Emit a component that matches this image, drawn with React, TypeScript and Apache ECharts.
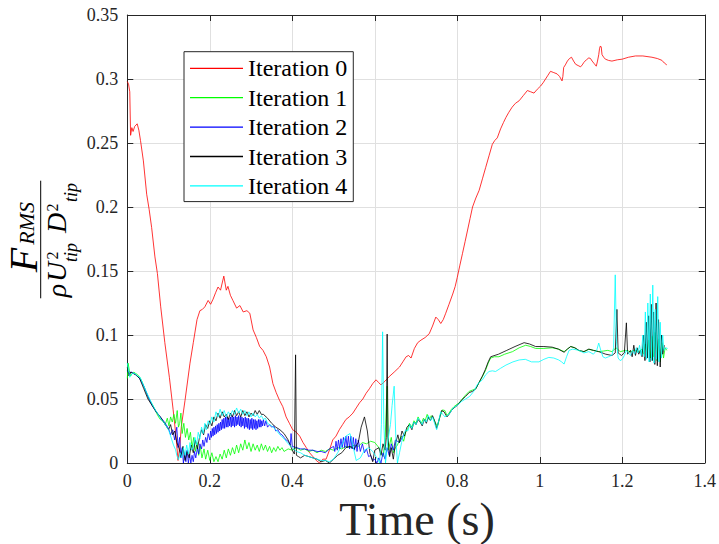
import React, { useEffect, useRef } from "react";
import * as echarts from "echarts";

const seriesNames = ["Iteration 0", "Iteration 1", "Iteration 2", "Iteration 3", "Iteration 4"];
const seriesColors = ["#ff0000", "#00ff00", "#0000ff", "#000000", "#00ffff"];
const xTickLabels = ["0", "0.2", "0.4", "0.6", "0.8", "1", "1.2", "1.4"];
const yTickLabels = ["0", "0.05", "0.1", "0.15", "0.2", "0.25", "0.3", "0.35"];

const iter0: [number, number][] = [
  [0, 0.298], [0.003, 0.296], [0.006, 0.29], [0.008, 0.256], [0.011, 0.262], [0.014, 0.259], [0.018, 0.263], [0.024, 0.265],
  [0.028, 0.26], [0.032, 0.252], [0.039, 0.236], [0.047, 0.21], [0.053, 0.198], [0.059, 0.184], [0.067, 0.161], [0.073, 0.148],
  [0.081, 0.122], [0.091, 0.094], [0.102, 0.067], [0.111, 0.042], [0.118, 0.021], [0.123, 0.002], [0.127, 0.012], [0.131, 0.0285],
  [0.14, 0.049], [0.152, 0.078], [0.16, 0.094], [0.169, 0.112], [0.176, 0.119], [0.182, 0.12], [0.188, 0.122], [0.196, 0.127],
  [0.202, 0.124], [0.208, 0.128], [0.214, 0.133], [0.22, 0.1375], [0.226, 0.135], [0.234, 0.146], [0.24, 0.135], [0.244, 0.138],
  [0.25, 0.131], [0.256, 0.127], [0.265, 0.121], [0.273, 0.123], [0.281, 0.118], [0.29, 0.119], [0.297, 0.117], [0.305, 0.104],
  [0.313, 0.098], [0.321, 0.091], [0.329, 0.088], [0.337, 0.083], [0.345, 0.075], [0.353, 0.062], [0.361, 0.055], [0.369, 0.049],
  [0.377, 0.044], [0.385, 0.036], [0.393, 0.031], [0.401, 0.026], [0.41, 0.024], [0.418, 0.021], [0.426, 0.016], [0.434, 0.012],
  [0.442, 0.008], [0.45, 0.005], [0.458, 0.002], [0.466, 0.0], [0.474, 0.003], [0.482, 0.003], [0.49, 0.01], [0.498, 0.018],
  [0.506, 0.021], [0.514, 0.026], [0.522, 0.03], [0.53, 0.034], [0.538, 0.036], [0.547, 0.039], [0.555, 0.043], [0.563, 0.047],
  [0.571, 0.05], [0.579, 0.0545], [0.587, 0.058], [0.595, 0.062], [0.603, 0.065], [0.609, 0.063], [0.615, 0.061], [0.625, 0.064],
  [0.635, 0.0675], [0.647, 0.071], [0.66, 0.075], [0.668, 0.079], [0.676, 0.083], [0.682, 0.084], [0.688, 0.082], [0.696, 0.0895],
  [0.704, 0.094], [0.712, 0.096], [0.722, 0.098], [0.732, 0.101], [0.74, 0.107], [0.748, 0.114], [0.754, 0.112], [0.76, 0.109],
  [0.766, 0.112], [0.772, 0.117], [0.78, 0.124], [0.789, 0.132], [0.795, 0.138], [0.8, 0.145], [0.806, 0.154], [0.8125, 0.1635],
  [0.819, 0.173], [0.825, 0.182], [0.831, 0.191], [0.837, 0.2], [0.845, 0.207], [0.853, 0.213], [0.861, 0.222], [0.869, 0.231],
  [0.877, 0.24], [0.885, 0.249], [0.891, 0.252], [0.897, 0.254], [0.905, 0.261], [0.912, 0.266], [0.918, 0.27], [0.925, 0.274],
  [0.933, 0.278], [0.941, 0.281], [0.95, 0.283], [0.96, 0.287], [0.97, 0.291], [0.978, 0.29], [0.986, 0.289], [0.994, 0.292],
  [1.002, 0.2945], [1.008, 0.297], [1.014, 0.3], [1.02, 0.303], [1.026, 0.306], [1.034, 0.305], [1.042, 0.304], [1.048, 0.302],
  [1.054, 0.2985], [1.056, 0.302], [1.058, 0.309], [1.062, 0.311], [1.067, 0.314], [1.072, 0.316], [1.077, 0.317], [1.082, 0.314],
  [1.087, 0.3115], [1.093, 0.3105], [1.099, 0.3095], [1.103, 0.311], [1.107, 0.313], [1.113, 0.315], [1.119, 0.3165], [1.123, 0.316],
  [1.127, 0.314], [1.132, 0.312], [1.137, 0.31], [1.14, 0.314], [1.143, 0.319], [1.145, 0.324], [1.147, 0.3258], [1.149, 0.325],
  [1.151, 0.319], [1.155, 0.317], [1.159, 0.3155], [1.167, 0.3145], [1.175, 0.314], [1.188, 0.315], [1.2, 0.3155], [1.215, 0.317],
  [1.232, 0.318], [1.25, 0.318], [1.272, 0.317], [1.285, 0.316], [1.296, 0.3146], [1.302, 0.3125], [1.308, 0.311],
];

const iter1: [number, number][] = [
  [0, 0.066], [0.002, 0.078], [0.005, 0.072], [0.008, 0.068], [0.012, 0.07], [0.016, 0.071], [0.02, 0.07], [0.025, 0.069],
  [0.03, 0.067], [0.035, 0.064], [0.04, 0.06], [0.045, 0.056], [0.05, 0.052], [0.056, 0.048], [0.062, 0.045], [0.068, 0.041],
  [0.074, 0.037], [0.08, 0.034], [0.086, 0.033], [0.092, 0.03], [0.097, 0.035], [0.101, 0.029], [0.105, 0.036], [0.109, 0.032],
  [0.113, 0.038], [0.117, 0.031], [0.121, 0.041], [0.124, 0.028], [0.127, 0.031], [0.13, 0.039], [0.133, 0.023], [0.137, 0.031],
  [0.141, 0.02], [0.145, 0.027], [0.149, 0.018], [0.153, 0.024], [0.157, 0.012], [0.161, 0.02], [0.165, 0.009], [0.169, 0.016],
  [0.173, 0.006], [0.177, 0.013], [0.181, 0.004], [0.186, 0.011], [0.19, 0.003], [0.195, 0.01], [0.2, 0.002], [0.205, 0.008],
  [0.21, 0.001], [0.215, 0.005], [0.22, 0.001], [0.225, 0.007], [0.23, 0.003], [0.235, 0.01], [0.24, 0.004], [0.245, 0.011],
  [0.25, 0.006], [0.255, 0.012], [0.26, 0.007], [0.265, 0.014], [0.27, 0.008], [0.275, 0.015], [0.28, 0.01], [0.285, 0.018],
  [0.29, 0.011], [0.295, 0.016], [0.3, 0.009], [0.305, 0.015], [0.31, 0.01], [0.315, 0.014], [0.32, 0.009], [0.325, 0.015],
  [0.33, 0.01], [0.335, 0.014], [0.34, 0.009], [0.345, 0.013], [0.35, 0.008], [0.355, 0.012], [0.36, 0.009], [0.365, 0.013],
  [0.37, 0.01], [0.375, 0.012], [0.38, 0.009], [0.39, 0.011], [0.4, 0.01], [0.41, 0.012], [0.42, 0.01], [0.43, 0.011],
  [0.44, 0.009], [0.45, 0.01], [0.46, 0.008], [0.47, 0.01], [0.48, 0.009], [0.49, 0.011], [0.5, 0.01], [0.51, 0.012],
  [0.52, 0.011], [0.53, 0.013], [0.54, 0.012], [0.55, 0.014], [0.56, 0.013], [0.57, 0.016], [0.58, 0.015], [0.59, 0.017],
  [0.6, 0.016], [0.61, 0.012], [0.62, 0.005], [0.625, 0.018], [0.63, 0.06], [0.633, 0.01], [0.64, 0.02], [0.645, 0.008],
  [0.65, 0.012], [0.655, 0.014], [0.66, 0.018], [0.665, 0.021], [0.67, 0.017], [0.675, 0.024], [0.68, 0.027], [0.684, 0.031],
  [0.69, 0.028], [0.695, 0.033], [0.7, 0.031], [0.705, 0.036], [0.708, 0.034], [0.713, 0.031], [0.718, 0.035], [0.722, 0.033],
  [0.727, 0.038], [0.732, 0.034], [0.737, 0.037], [0.742, 0.035], [0.746, 0.032], [0.752, 0.0285], [0.758, 0.036], [0.764, 0.0415],
  [0.77, 0.041], [0.775, 0.037], [0.78, 0.039], [0.786, 0.042], [0.792, 0.044], [0.8, 0.046], [0.805, 0.047], [0.812, 0.05],
  [0.82, 0.053], [0.829, 0.056], [0.837, 0.057], [0.845, 0.058], [0.853, 0.063], [0.861, 0.0675], [0.868, 0.072], [0.875, 0.078],
  [0.881, 0.082], [0.89, 0.083], [0.901, 0.083], [0.915, 0.085], [0.934, 0.087], [0.95, 0.09], [0.966, 0.092], [0.978, 0.091],
  [0.99, 0.0895], [1.01, 0.0895], [1.03, 0.09], [1.045, 0.089], [1.059, 0.087], [1.067, 0.089], [1.075, 0.091], [1.085, 0.09],
  [1.095, 0.0877], [1.107, 0.087], [1.119, 0.0888], [1.13, 0.088], [1.143, 0.087], [1.155, 0.0875], [1.165, 0.088], [1.175, 0.087],
  [1.185, 0.09], [1.195, 0.087], [1.208, 0.088], [1.22, 0.087], [1.23, 0.088], [1.24, 0.087], [1.248, 0.089], [1.252, 0.085],
  [1.256, 0.093], [1.26, 0.084], [1.264, 0.096], [1.268, 0.082], [1.272, 0.099], [1.276, 0.083], [1.28, 0.102], [1.284, 0.08],
  [1.288, 0.097], [1.292, 0.079], [1.296, 0.094], [1.3, 0.082], [1.304, 0.09], [1.308, 0.088],
];

const iter2: [number, number][] = [
  [0, 0.072], [0.005, 0.07], [0.01, 0.071], [0.02, 0.069], [0.03, 0.066], [0.04, 0.06], [0.05, 0.052], [0.06, 0.045],
  [0.07, 0.04], [0.08, 0.036], [0.09, 0.032], [0.1, 0.027], [0.105, 0.022], [0.11, 0.026], [0.115, 0.018], [0.12, 0.028],
  [0.123, 0.012], [0.127, 0.02], [0.13, 0.004], [0.133, 0.012], [0.136, 0.0], [0.139, 0.008], [0.142, 0.001], [0.145, 0.01],
  [0.148, 0.0], [0.151, 0.007], [0.154, 0.0], [0.157, 0.006], [0.16, 0.001], [0.163, 0.009], [0.166, 0.004], [0.17, 0.012],
  [0.173, 0.007], [0.176, 0.015], [0.18, 0.011], [0.183, 0.018], [0.186, 0.013], [0.19, 0.02], [0.193, 0.016], [0.196, 0.023],
  [0.2, 0.018], [0.202, 0.025], [0.204, 0.02], [0.206, 0.027], [0.208, 0.021], [0.21, 0.028], [0.212, 0.022], [0.214, 0.029],
  [0.216, 0.023], [0.218, 0.03], [0.22, 0.024], [0.222, 0.031], [0.224, 0.025], [0.226, 0.032], [0.228, 0.026], [0.23, 0.034],
  [0.232, 0.027], [0.234, 0.035], [0.236, 0.027], [0.238, 0.036], [0.24, 0.028], [0.242, 0.036], [0.244, 0.028], [0.246, 0.035],
  [0.248, 0.029], [0.25, 0.036], [0.252, 0.028], [0.254, 0.037], [0.256, 0.029], [0.258, 0.036], [0.26, 0.028], [0.262, 0.037],
  [0.264, 0.029], [0.266, 0.036], [0.268, 0.03], [0.27, 0.037], [0.272, 0.029], [0.274, 0.036], [0.276, 0.028], [0.278, 0.036],
  [0.28, 0.029], [0.282, 0.035], [0.284, 0.027], [0.286, 0.036], [0.288, 0.028], [0.29, 0.035], [0.292, 0.027], [0.294, 0.035],
  [0.296, 0.026], [0.298, 0.034], [0.3, 0.027], [0.302, 0.035], [0.304, 0.026], [0.306, 0.034], [0.308, 0.027], [0.31, 0.034],
  [0.312, 0.026], [0.314, 0.033], [0.316, 0.027], [0.318, 0.034], [0.32, 0.028], [0.322, 0.034], [0.324, 0.028], [0.326, 0.033],
  [0.328, 0.029], [0.33, 0.034], [0.333, 0.029], [0.336, 0.033], [0.34, 0.028], [0.345, 0.03], [0.35, 0.028], [0.355, 0.029],
  [0.36, 0.025], [0.365, 0.026], [0.37, 0.023], [0.375, 0.022], [0.38, 0.02], [0.385, 0.018], [0.39, 0.017], [0.395, 0.014],
  [0.397, 0.023], [0.4, 0.013], [0.41, 0.012], [0.42, 0.011], [0.43, 0.011], [0.44, 0.01], [0.45, 0.01], [0.46, 0.009],
  [0.47, 0.009], [0.48, 0.008], [0.49, 0.011], [0.5, 0.013], [0.503, 0.009], [0.506, 0.017], [0.509, 0.01], [0.512, 0.018],
  [0.515, 0.011], [0.518, 0.019], [0.521, 0.012], [0.524, 0.02], [0.527, 0.012], [0.53, 0.021], [0.533, 0.012], [0.536, 0.021],
  [0.539, 0.011], [0.542, 0.021], [0.545, 0.011], [0.548, 0.02], [0.551, 0.01], [0.554, 0.019], [0.557, 0.009], [0.56, 0.018],
  [0.565, 0.009], [0.57, 0.015], [0.575, 0.008], [0.58, 0.011], [0.585, 0.005], [0.59, 0.006], [0.595, 0.002], [0.6, 0.003],
  [0.605, 0.0], [0.61, 0.004], [0.615, 0.0], [0.62, 0.008], [0.625, 0.003], [0.63, 0.012], [0.635, 0.006], [0.64, 0.015],
  [0.645, 0.01], [0.65, 0.018], [0.66, 0.016], [0.67, 0.022],
];

const iter3: [number, number][] = [
  [0, 0.075], [0.004, 0.068], [0.008, 0.071], [0.014, 0.07], [0.02, 0.069], [0.03, 0.066], [0.04, 0.058], [0.05, 0.05],
  [0.06, 0.045], [0.07, 0.04], [0.08, 0.036], [0.09, 0.031], [0.1, 0.026], [0.105, 0.03], [0.11, 0.022], [0.115, 0.025],
  [0.12, 0.016], [0.125, 0.012], [0.13, 0.005], [0.135, 0.013], [0.14, 0.002], [0.145, 0.009], [0.15, 0.004], [0.155, 0.014],
  [0.16, 0.008], [0.165, 0.018], [0.17, 0.011], [0.175, 0.02], [0.18, 0.026], [0.185, 0.022], [0.19, 0.03], [0.195, 0.027],
  [0.2, 0.033], [0.205, 0.029], [0.21, 0.036], [0.215, 0.033], [0.22, 0.039], [0.225, 0.035], [0.23, 0.04], [0.235, 0.036],
  [0.24, 0.038], [0.245, 0.034], [0.25, 0.039], [0.255, 0.036], [0.26, 0.041], [0.265, 0.037], [0.27, 0.04], [0.275, 0.036],
  [0.28, 0.041], [0.285, 0.037], [0.29, 0.04], [0.295, 0.036], [0.3, 0.039], [0.305, 0.037], [0.31, 0.041], [0.315, 0.038],
  [0.32, 0.041], [0.325, 0.038], [0.33, 0.038], [0.34, 0.035], [0.35, 0.031], [0.36, 0.028], [0.37, 0.026], [0.38, 0.023],
  [0.39, 0.018], [0.4, 0.01], [0.405, 0.007], [0.408, 0.0845], [0.41, 0.006], [0.415, 0.005], [0.42, 0.004], [0.43, 0.006],
  [0.44, 0.005], [0.45, 0.004], [0.46, 0.003], [0.47, 0.001], [0.48, 0.002], [0.49, 0.0], [0.5, 0.003], [0.51, 0.006],
  [0.52, 0.008], [0.53, 0.012], [0.54, 0.013], [0.55, 0.011], [0.56, 0.016], [0.567, 0.028], [0.575, 0.036], [0.582, 0.025],
  [0.588, 0.008], [0.595, 0.001], [0.6, 0.01], [0.61, 0.012], [0.615, 0.006], [0.62, 0.015], [0.625, 0.01], [0.628, 0.02],
  [0.63, 0.1007], [0.632, 0.02], [0.636, 0.005], [0.64, 0.012], [0.645, 0.003], [0.65, 0.015], [0.656, 0.022], [0.66, 0.016],
  [0.666, 0.025], [0.672, 0.021], [0.678, 0.028], [0.684, 0.03], [0.69, 0.026], [0.695, 0.032], [0.7, 0.03], [0.705, 0.034],
  [0.71, 0.032], [0.715, 0.029], [0.72, 0.034], [0.725, 0.031], [0.73, 0.036], [0.735, 0.033], [0.74, 0.037], [0.745, 0.033],
  [0.75, 0.027], [0.756, 0.034], [0.762, 0.041], [0.768, 0.04], [0.775, 0.036], [0.78, 0.038], [0.786, 0.041], [0.792, 0.043],
  [0.8, 0.045], [0.81, 0.049], [0.82, 0.052], [0.829, 0.055], [0.837, 0.056], [0.845, 0.058], [0.853, 0.063], [0.861, 0.068],
  [0.868, 0.073], [0.875, 0.079], [0.881, 0.083], [0.9, 0.085], [0.92, 0.088], [0.94, 0.091], [0.962, 0.094], [0.975, 0.093],
  [0.99, 0.091], [1.01, 0.091], [1.03, 0.0905], [1.045, 0.089], [1.059, 0.0865], [1.067, 0.089], [1.075, 0.091], [1.085, 0.09],
  [1.095, 0.088], [1.107, 0.087], [1.119, 0.089], [1.13, 0.088], [1.143, 0.087], [1.16, 0.085], [1.175, 0.084], [1.183, 0.086],
  [1.187, 0.12], [1.19, 0.086], [1.198, 0.084], [1.205, 0.086], [1.21, 0.1095], [1.213, 0.085], [1.22, 0.088], [1.224, 0.083],
  [1.228, 0.092], [1.232, 0.084], [1.236, 0.09], [1.24, 0.085], [1.244, 0.088], [1.248, 0.083], [1.252, 0.1], [1.255, 0.08],
  [1.258, 0.11], [1.261, 0.082], [1.264, 0.115], [1.267, 0.079], [1.27, 0.124], [1.273, 0.08], [1.276, 0.118], [1.279, 0.077],
  [1.282, 0.125], [1.285, 0.076], [1.288, 0.112], [1.292, 0.075], [1.295, 0.1], [1.298, 0.085], [1.302, 0.092],
];

const iter4: [number, number][] = [
  [0, 0.078], [0.006, 0.067], [0.012, 0.07], [0.018, 0.07], [0.025, 0.068], [0.031, 0.067], [0.039, 0.061], [0.047, 0.055],
  [0.056, 0.049], [0.062, 0.045], [0.068, 0.0415], [0.076, 0.0375], [0.082, 0.034], [0.088, 0.032], [0.094, 0.029], [0.1, 0.026],
  [0.104, 0.022], [0.108, 0.018], [0.112, 0.014], [0.117, 0.0104], [0.12, 0.006], [0.124, 0.0026], [0.128, 0.008], [0.132, 0.004],
  [0.136, 0.012], [0.14, 0.006], [0.144, 0.014], [0.148, 0.007], [0.152, 0.016], [0.156, 0.01], [0.16, 0.012], [0.164, 0.02],
  [0.168, 0.014], [0.172, 0.024], [0.176, 0.019], [0.18, 0.028], [0.184, 0.023], [0.188, 0.031], [0.192, 0.026], [0.196, 0.033],
  [0.2, 0.03], [0.205, 0.036], [0.21, 0.032], [0.215, 0.04], [0.22, 0.036], [0.225, 0.042], [0.23, 0.037], [0.235, 0.041],
  [0.24, 0.036], [0.245, 0.04], [0.25, 0.037], [0.255, 0.041], [0.26, 0.038], [0.265, 0.043], [0.27, 0.039], [0.275, 0.042],
  [0.28, 0.038], [0.285, 0.041], [0.29, 0.037], [0.295, 0.04], [0.3, 0.036], [0.305, 0.039], [0.31, 0.036], [0.315, 0.038],
  [0.32, 0.035], [0.325, 0.037], [0.33, 0.034], [0.335, 0.035], [0.34, 0.031], [0.35, 0.029], [0.36, 0.026], [0.37, 0.022],
  [0.38, 0.019], [0.39, 0.015], [0.4, 0.012], [0.41, 0.009], [0.42, 0.008], [0.43, 0.006], [0.44, 0.005], [0.45, 0.004],
  [0.46, 0.003], [0.47, 0.002], [0.48, 0.002], [0.49, 0.001], [0.5, 0.003], [0.51, 0.008], [0.52, 0.014], [0.53, 0.021],
  [0.54, 0.023], [0.548, 0.012], [0.555, 0.002], [0.565, 0.004], [0.575, 0.01], [0.585, 0.012], [0.595, 0.009], [0.605, 0.004],
  [0.612, 0.0], [0.616, 0.03], [0.619, 0.1025], [0.622, 0.03], [0.626, 0.0], [0.632, 0.018], [0.638, 0.03], [0.642, 0.045],
  [0.647, 0.06], [0.651, 0.02], [0.655, 0.0], [0.66, 0.008], [0.665, 0.016], [0.67, 0.022], [0.675, 0.026], [0.68, 0.025],
  [0.685, 0.03], [0.69, 0.027], [0.695, 0.032], [0.7, 0.03], [0.705, 0.035], [0.71, 0.033], [0.715, 0.03], [0.72, 0.034],
  [0.725, 0.032], [0.73, 0.037], [0.735, 0.033], [0.74, 0.036], [0.745, 0.031], [0.75, 0.026], [0.755, 0.033], [0.76, 0.04],
  [0.765, 0.038], [0.77, 0.036], [0.78, 0.038], [0.79, 0.043], [0.8, 0.045], [0.81, 0.048], [0.82, 0.05], [0.83, 0.052],
  [0.84, 0.056], [0.85, 0.062], [0.861, 0.065], [0.869, 0.069], [0.877, 0.0715], [0.885, 0.072], [0.893, 0.0715], [0.905, 0.074],
  [0.918, 0.0765], [0.935, 0.079], [0.95, 0.0805], [0.965, 0.081], [0.98, 0.079], [0.998, 0.079], [1.01, 0.081], [1.022, 0.0825],
  [1.034, 0.082], [1.046, 0.0805], [1.053, 0.079], [1.059, 0.0773], [1.065, 0.083], [1.071, 0.088], [1.08, 0.089], [1.095, 0.088],
  [1.107, 0.086], [1.119, 0.087], [1.13, 0.085], [1.138, 0.088], [1.143, 0.0937], [1.148, 0.088], [1.153, 0.083], [1.159, 0.082],
  [1.167, 0.083], [1.175, 0.0843], [1.179, 0.09], [1.183, 0.147], [1.186, 0.095], [1.19, 0.082], [1.195, 0.08], [1.2, 0.081],
  [1.205, 0.084], [1.21, 0.088], [1.215, 0.086], [1.22, 0.084], [1.225, 0.088], [1.23, 0.085], [1.234, 0.09], [1.238, 0.086],
  [1.242, 0.092], [1.246, 0.084], [1.25, 0.1], [1.253, 0.083], [1.256, 0.118], [1.259, 0.081], [1.262, 0.125], [1.265, 0.079],
  [1.268, 0.132], [1.271, 0.08], [1.274, 0.139], [1.277, 0.078], [1.28, 0.12], [1.283, 0.081], [1.286, 0.13], [1.289, 0.079],
  [1.292, 0.11], [1.295, 0.082], [1.298, 0.1], [1.301, 0.088], [1.305, 0.09], [1.31, 0.0895],
];

const seriesData = [iter0, iter1, iter2, iter3, iter4];

const SERIF = "Times New Roman, Liberation Serif, serif";
const INK = "#262626";

export default function App() {
  const ref = useRef<HTMLDivElement>(null);

  useEffect(() => {
    document.body.style.margin = "0";
    if (!ref.current) return;
    const chart = echarts.init(ref.current, undefined, { renderer: "svg" });

    const labelFrom = (labels: string[], step: number) => (v: number) => {
      const i = Math.round(v / step);
      return labels[i] ?? "";
    };

    const axisCommon = {
      axisLine: { show: true, onZero: false, lineStyle: { color: INK, width: 1 } },
      axisTick: { show: true, inside: true, length: 6, lineStyle: { color: INK, width: 1 } },
    };

    const mathText = (text: string, x: number, y: number, size: number, italic: boolean) => ({
      type: "text",
      x,
      y,
      style: {
        text,
        fontFamily: SERIF,
        fontSize: size,
        fontStyle: italic ? "italic" : "normal",
        fill: "#000",
        align: "center",
        verticalAlign: "middle",
      },
    });

    chart.setOption({
      animation: false,
      backgroundColor: "#fff",
      textStyle: { fontFamily: SERIF },
      grid: { left: 127.3, right: 12, top: 15, bottom: 81, containLabel: false },
      xAxis: [
        {
          type: "value",
          min: 0,
          max: 1.4,
          interval: 0.2,
          ...axisCommon,
          axisLabel: {
            margin: 9,
            fontFamily: SERIF,
            fontSize: 18,
            color: INK,
            formatter: labelFrom(xTickLabels, 0.2),
          },
          splitLine: { show: true, lineStyle: { color: "#e0e0e0", width: 1 } },
        },
        {
          type: "value",
          position: "top",
          min: 0,
          max: 1.4,
          interval: 0.2,
          ...axisCommon,
          axisLabel: { show: false },
          splitLine: { show: false },
        },
      ],
      yAxis: [
        {
          type: "value",
          min: 0,
          max: 0.35,
          interval: 0.05,
          ...axisCommon,
          axisLabel: {
            margin: 9,
            fontFamily: SERIF,
            fontSize: 18,
            color: INK,
            formatter: labelFrom(yTickLabels, 0.05),
          },
          splitLine: { show: true, lineStyle: { color: "#e0e0e0", width: 1 } },
        },
        {
          type: "value",
          position: "right",
          min: 0,
          max: 0.35,
          interval: 0.05,
          ...axisCommon,
          axisLabel: { show: false },
          splitLine: { show: false },
        },
      ],
      legend: {
        orient: "vertical",
        left: 184,
        top: 51.7,
        icon: "rect",
        itemWidth: 53,
        itemHeight: 1.3,
        itemGap: 5.4,
        padding: [4.6, 6, 3.7, 6],
        borderColor: INK,
        borderWidth: 1,
        backgroundColor: "#fff",
        textStyle: { fontFamily: SERIF, fontSize: 24, color: "#000", lineHeight: 24 },
        data: seriesNames,
      },
      series: seriesNames.map((name, i) => ({
        name,
        type: "line",
        xAxisIndex: 0,
        yAxisIndex: 0,
        data: seriesData[i],
        symbol: "none",
        showSymbol: false,
        lineStyle: { color: seriesColors[i], width: 0.8 },
        itemStyle: { color: seriesColors[i] },
        z: 2 + i * 0.01,
      })),
      graphic: [
        {
          type: "group",
          x: 40.7,
          y: 239.5,
          rotation: Math.PI / 2,
          children: [
            { type: "line", shape: { x1: -58.8, y1: 0, x2: 58.8, y2: 0 }, style: { stroke: "#000", lineWidth: 1 } },
            mathText("F", -20.5, -16.8, 40, true),
            mathText("RMS", 16.2, -13.8, 22, true),
            mathText("ρ", -51, 15.5, 28, true),
            mathText("U", -32.5, 15.5, 28, true),
            mathText("2", -16, 11.3, 16, false),
            mathText("tip", -13, 30.6, 18, true),
            mathText("D", 16.5, 15.5, 28, true),
            mathText("2", 32, 11.3, 16, false),
            mathText("tip", 47, 30.6, 18, true),
          ],
        },
        {
          type: "text",
          x: 417,
          y: 519.5,
          style: {
            text: "Time (s)",
            fontFamily: SERIF,
            fontSize: 46,
            fill: INK,
            align: "center",
            verticalAlign: "middle",
          },
        },
      ],
    });

    return () => chart.dispose();
  }, []);

  return <div ref={ref} style={{ position: "absolute", left: 0, top: 0, width: 719, height: 544 }} />;
}
